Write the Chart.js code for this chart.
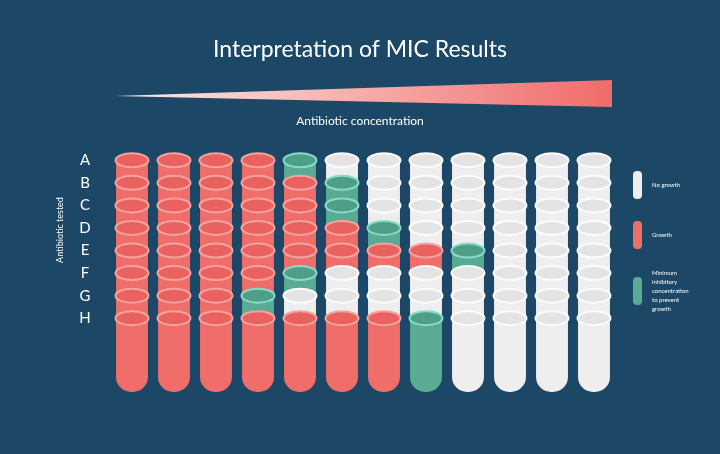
<!DOCTYPE html>
<html>
<head>
<meta charset="utf-8">
<script src="https://cdn.jsdelivr.net/npm/chart.js@4/dist/chart.umd.min.js"></script>
<style>
  html, body { margin: 0; padding: 0; background: #1c4767; }
  canvas { display: block; }
</style>
</head>
<body>
<canvas id="mic" width="720" height="454"></canvas>
<script>
// Antibiotic tested (rows) x concentration (columns)
const rows = ['A', 'B', 'C', 'D', 'E', 'F', 'G', 'H'];
const concentrations = ['1', '2', '3', '4', '5', '6', '7', '8', '9', '10', '11', '12'];
// R = growth, W = no growth, M = minimum inhibitory concentration
const wellA = ['R','R','R','R','M','W','W','W','W','W','W','W'];
const wellB = ['R','R','R','R','R','M','W','W','W','W','W','W'];
const wellC = ['R','R','R','R','R','M','W','W','W','W','W','W'];
const wellD = ['R','R','R','R','R','R','M','W','W','W','W','W'];
const wellE = ['R','R','R','R','R','R','R','R','M','W','W','W'];
const wellF = ['R','R','R','R','M','W','W','W','W','W','W','W'];
const wellG = ['R','R','R','M','W','W','W','W','W','W','W','W'];
const wellH = ['R','R','R','R','R','R','R','M','W','W','W','W'];
const wells = [wellA, wellB, wellC, wellD, wellE, wellF, wellG, wellH];

const tubeBottom = 10.27;

// couleurs: corps, bouchon, contour
const colores = {
  R: ['#ef6e6a', '#ea625f', '#f6a3a0'],
  W: ['#eeeeee', '#e4e4e4', '#fbfbfb'],
  M: ['#5aab94', '#4f9e88', '#86dcc8']
};

const datasets = rows.map((r, i) => {
  const last = i === rows.length - 1;
  return {
    label: r,
    data: concentrations.map(() => [i, last ? tubeBottom : i + 1]),
    backgroundColor: wells[i].map(s => colores[s][0]),
    grouped: false,
    borderSkipped: false,
    borderRadius: last ? { topLeft: 0, topRight: 0, bottomLeft: 15, bottomRight: 15 } : 0,
    barPercentage: 0.76,
    categoryPercentage: 1
  };
});

const decor = {
  id: 'decor',
  beforeDraw(chart) {
    const ctx = chart.ctx;
    ctx.save();
    ctx.fillStyle = '#1c4767';
    ctx.fillRect(0, 0, chart.width, chart.height);
    // titre
    ctx.fillStyle = '#ffffff';
    ctx.textAlign = 'center';
    ctx.textBaseline = 'middle';
    ctx.font = '23px Lato';
    ctx.fillText('Interpretation of MIC Results', 360, 50);
    // triangle concentration
    const g = ctx.createLinearGradient(115, 0, 612, 0);
    g.addColorStop(0, '#fdecea');
    g.addColorStop(1, '#ef6c6a');
    ctx.fillStyle = g;
    ctx.beginPath();
    ctx.moveTo(115, 96);
    ctx.lineTo(612, 80);
    ctx.lineTo(612, 107);
    ctx.closePath();
    ctx.fill();
    ctx.fillStyle = '#ffffff';
    ctx.font = '12px Lato';
    ctx.fillText('Antibiotic concentration', 360, 121);
    // axe y
    ctx.save();
    ctx.translate(60, 230);
    ctx.rotate(-Math.PI / 2);
    ctx.font = '9px Lato';
    ctx.fillText('Antibiotic tested', 0, 0);
    ctx.restore();
    const y = chart.scales.y;
    ctx.font = '15px Lato';
    rows.forEach((r, i) => ctx.fillText(r, 85, y.getPixelForValue(i)));
    ctx.restore();
  },
  afterDatasetsDraw(chart) {
    const ctx = chart.ctx;
    const x = chart.scales.x, y = chart.scales.y;
    ctx.save();
    wells.forEach((fila, i) => {
      fila.forEach((s, j) => {
        const px = x.getPixelForValue(j), py = y.getPixelForValue(i);
        ctx.beginPath();
        ctx.ellipse(px, py, 16.5, 7, 0, 0, Math.PI * 2);
        ctx.fillStyle = colores[s][1];
        ctx.fill();
        ctx.lineWidth = 2;
        ctx.strokeStyle = colores[s][2];
        ctx.stroke();
      });
    });
    // leyenda
    const items = [
      ['W', 171, ['No growth']],
      ['R', 221, ['Growth']],
      ['M', 277, ['Minimum', 'inhibitory', 'concentration', 'to prevent', 'growth']]
    ];
    ctx.font = '6px Lato';
    ctx.textAlign = 'left';
    ctx.textBaseline = 'middle';
    items.forEach(([s, top, lines]) => {
      ctx.fillStyle = colores[s][0];
      ctx.beginPath();
      ctx.roundRect(633, top, 9, 28, [4, 4, 4, 4]);
      ctx.fill();
      ctx.fillStyle = '#ffffff';
      const mid = top + 14 - (lines.length - 1) * 4.5;
      lines.forEach((l, k) => ctx.fillText(l, 652, mid + k * 9));
    });
    ctx.restore();
  }
};

new Chart(document.getElementById('mic'), {
  type: 'bar',
  data: { labels: concentrations, datasets: datasets },
  options: {
    responsive: false,
    animation: false,
    layout: { padding: { left: 111, right: 105, top: 149, bottom: 62 } },
    plugins: { legend: { display: false }, tooltip: { enabled: false } },
    scales: {
      x: { display: false, offset: true },
      y: { display: false, reverse: true, min: -0.5, max: tubeBottom }
    }
  },
  plugins: [decor]
});
</script>
</body>
</html>
